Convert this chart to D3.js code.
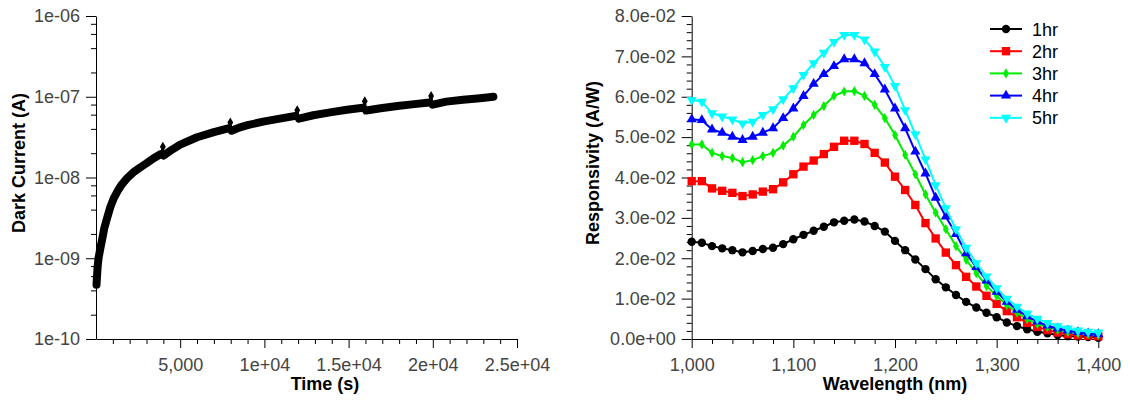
<!DOCTYPE html>
<html>
<head>
<meta charset="utf-8">
<script src="https://cdn.jsdelivr.net/npm/d3@7"></script>
<style>
    body { margin: 0; background: #fff; }
    text { font-family: "Liberation Sans", Arial, sans-serif; }
    .tick text { fill: #444; font-size: 18px; }
    .title { font-weight: bold; font-size: 18px; fill: #000; }
    .legend { font-size: 18px; fill: #000; }
</style>
</head>
<body>
<svg id="chart" width="1130" height="403"></svg>
<script>
// ---- left panel: dark current vs time ----
var timeTicks = [5000, 10000, 15000, 20000, 25000];
var timeTickLabels = ["5,000", "1e+04", "1.5e+04", "2e+04", "2.5e+04"];
var currentTicks = [1e-10, 1e-9, 1e-8, 1e-7, 1e-6];

// continuous runs of the measurement [time s, current A]
var darkRun1 = [[30, 4.7e-10], [60, 6.0e-10], [100, 8.0e-10], [150, 1.0e-9], [250, 1.3e-9], [350, 1.65e-9],
    [500, 2.4e-9], [650, 3.1e-9], [850, 4.3e-9], [1050, 5.5e-9], [1300, 6.9e-9], [1550, 8.3e-9],
    [1850, 9.8e-9], [2200, 1.15e-8], [2600, 1.32e-8], [3000, 1.5e-8], [3400, 1.72e-8], [3850, 1.95e-8]];
var darkRun2 = [[4020, 1.87e-8], [4500, 2.2e-8], [5000, 2.55e-8], [6000, 3.15e-8], [7000, 3.65e-8], [7850, 4.05e-8]];
var darkRun3 = [[8050, 3.8e-8], [8500, 4.15e-8], [9000, 4.45e-8], [10000, 4.95e-8], [11000, 5.4e-8], [11850, 5.8e-8]];
var darkRun4 = [[12050, 5.35e-8], [12900, 5.9e-8], [13900, 6.4e-8], [14900, 6.9e-8], [15850, 7.3e-8]];
var darkRun5 = [[16050, 6.75e-8], [16900, 7.2e-8], [17900, 7.67e-8], [18900, 8.1e-8], [19800, 8.5e-8]];
var darkRun6 = [[20000, 8.0e-8], [20800, 8.7e-8], [21800, 9.2e-8], [22800, 9.6e-8], [23600, 1.0e-7]];
// single outlier points at each restart
var darkSpikes = [[3970, 2.4e-8], [7976, 4.8e-8], [11950, 6.8e-8], [15960, 8.8e-8], [19900, 1.02e-7]];

// ---- right panel: responsivity vs wavelength ----
var wavelength = d3.range(1000, 1401, 10);
var wavelengthTicks = [1000, 1100, 1200, 1300, 1400];
var respTicks = [0, 0.01, 0.02, 0.03, 0.04, 0.05, 0.06, 0.07, 0.08];
var seriesNames = ["1hr", "2hr", "3hr", "4hr", "5hr"];
var resp1hr = [.0241, .02385, .0230, .02246, .0220, .02147, .0218, .0223, .0226, .0235, .0247,
    .0258, .0268, .0278, .0289, .0293, .0296, .0291, .0280, .0266, .0243,
    .0220, .0197, .0173, .0148, .0128, .0109, .0092, .0078, .0065, .0054,
    .0041, .0032, .0024, .0018, .0014, .0010, .0007, .0006, .0005, .0003];
var resp2hr = [.0391, .0391, .0373, .0367, .0362, .0354, .0358, .0365, .0371, .0388, .0408,
    .0427, .0442, .0458, .0476, .0491, .0491, .0483, .0461, .0437, .0402,
    .0369, .0332, .0287, .0249, .0214, .0183, .0154, .0130, .0107, .0087,
    .0069, .0054, .0040, .0030, .0022, .0016, .0012, .0009, .0008, .0007];
var resp3hr = [.0482, .0482, .0461, .0453, .0448, .0438, .0443, .0453, .0461, .0479, .0501,
    .0530, .0555, .0577, .0602, .0613, .0614, .0602, .0580, .0547, .0505,
    .0456, .0408, .0358, .0313, .0272, .0230, .0196, .0163, .0131, .0107,
    .0084, .0065, .0049, .0037, .0029, .0022, .0017, .0014, .0012, .0010];
var resp4hr = [.0544, .0542, .0519, .0511, .0501, .0493, .0501, .0511, .0522, .0547, .0571,
    .0602, .0632, .0656, .0676, .0693, .0693, .0683, .0656, .0618, .0571,
    .0522, .0464, .0410, .0350, .0303, .0260, .0212, .0178, .0145, .0117,
    .0092, .0072, .0056, .0043, .0033, .0026, .0021, .0017, .0014, .0012];
var resp5hr = [.0592, .0588, .0559, .0551, .0544, .0534, .0538, .0555, .0569, .0594, .0621,
    .0654, .0683, .0709, .0736, .0753, .0753, .0742, .0712, .0674, .0627,
    .0567, .0507, .0445, .0381, .0324, .0272, .0226, .0188, .0155, .0126,
    .0100, .0080, .0063, .0050, .0040, .0032, .0026, .0021, .0018, .0016];

var svg = d3.select("#chart");

// exponent with two digits, like 8.0e-02
function expLabel(v, digits) {
    var parts = v.toExponential(digits).split("e");
    var e = parts[1];
    return parts[0] + "e" + e[0] + e.slice(1).padStart(2, "0");
}

// ================= left panel =================
var xT = d3.scaleLinear().domain([0, 25000]).range([96, 517]);
var yI = d3.scaleLog().domain([1e-10, 1e-6]).range([339, 16]);

var timeMinor = d3.range(1000, 25000, 1000).filter(d => d % 5000 !== 0);
var currentMinor = [];
currentTicks.slice(0, -1).forEach(function (d) {
    [2, 4, 6, 8].forEach(m => currentMinor.push(d * m));
});

svg.append("g")
    .attr("transform", "translate(0,339)")
    .call(d3.axisBottom(xT).tickValues(timeMinor).tickSize(5).tickFormat(""))
    .call(g => g.select(".domain").remove());
svg.append("g")
    .attr("transform", "translate(0,339)")
    .call(d3.axisBottom(xT).tickValues(timeTicks).tickSize(9).tickSizeOuter(0).tickPadding(10)
        .tickFormat((d, i) => timeTickLabels[i]));

svg.append("g")
    .attr("transform", "translate(96,0)")
    .call(d3.axisLeft(yI).tickValues(currentMinor).tickSize(5).tickFormat(""))
    .call(g => g.select(".domain").remove());
svg.append("g")
    .attr("transform", "translate(96,0)")
    .call(d3.axisLeft(yI).tickValues(currentTicks).tickSize(10).tickSizeOuter(0).tickPadding(6)
        .tickFormat(d => expLabel(d, 0)));

var darkLine = d3.line()
    .x(d => xT(d[0]))
    .y(d => yI(d[1]));

var darkRuns = [darkRun1, darkRun2, darkRun3, darkRun4, darkRun5, darkRun6];

// thin connectors through the outliers
darkSpikes.forEach(function (s, i) {
    var before = darkRuns[i][darkRuns[i].length - 1];
    var after = darkRuns[i + 1][0];
    svg.append("path")
        .attr("d", darkLine([before, s, after]))
        .attr("fill", "none")
        .attr("stroke", "#000")
        .attr("stroke-width", 2);
});

// dense markers render as a thick band
svg.selectAll(".darkrun")
    .data(darkRuns)
    .enter()
    .append("path")
    .attr("class", "darkrun")
    .attr("d", d => darkLine(d))
    .attr("fill", "none")
    .attr("stroke", "#000")
    .attr("stroke-width", 8)
    .attr("stroke-linejoin", "round")
    .attr("stroke-linecap", "round");

svg.selectAll(".spike")
    .data(darkSpikes)
    .enter()
    .append("path")
    .attr("class", "spike")
    .attr("transform", d => "translate(" + xT(d[0]) + "," + yI(d[1]) + ")")
    .attr("d", d3.symbol().type(d3.symbolDiamond).size(30))
    .attr("fill", "#000");

svg.append("text")
    .attr("class", "title")
    .attr("x", 325)
    .attr("y", 390)
    .attr("text-anchor", "middle")
    .text("Time (s)");

svg.append("text")
    .attr("class", "title")
    .attr("transform", "translate(25,163) rotate(-90)")
    .attr("text-anchor", "middle")
    .text("Dark Current (A)");

// ================= right panel =================
var xW = d3.scaleLinear().domain([1000, 1400]).range([691.7, 1098.3]);
var yR = d3.scaleLinear().domain([0, 0.08]).range([339, 16]);

var wavelengthMinor = d3.range(1000, 1400, 20).filter(d => d % 100 !== 0);
var respMinor = d3.range(0, 40).map(i => i * 0.002).filter((d, i) => i % 5 !== 0);

svg.append("g")
    .attr("transform", "translate(0,339)")
    .call(d3.axisBottom(xW).tickValues(wavelengthMinor).tickSize(5).tickFormat(""))
    .call(g => g.select(".domain").remove());
svg.append("g")
    .attr("transform", "translate(0,339)")
    .call(d3.axisBottom(xW).tickValues(wavelengthTicks).tickSize(9).tickSizeOuter(0).tickPadding(10)
        .tickFormat(d3.format(",")));

svg.append("g")
    .attr("transform", "translate(691.7,0)")
    .call(d3.axisLeft(yR).tickValues(respMinor).tickSize(5).tickFormat(""))
    .call(g => g.select(".domain").remove());
svg.append("g")
    .attr("transform", "translate(691.7,0)")
    .call(d3.axisLeft(yR).tickValues(respTicks).tickSize(10).tickSizeOuter(0).tickPadding(6)
        .tickFormat(d => expLabel(d, 1)));

var seriesValues = [resp1hr, resp2hr, resp3hr, resp4hr, resp5hr];
var seriesColor = d3.scaleOrdinal()
    .domain(seriesNames)
    .range(["#000000", "#ff0000", "#00ee00", "#0000ff", "#00ffff"]);
var seriesSymbol = [
    d3.symbol().type(d3.symbolCircle).size(55),
    d3.symbol().type(d3.symbolSquare).size(70),
    d3.symbol().type(d3.symbolDiamond).size(30),
    d3.symbol().type(d3.symbolTriangle).size(45),
    d3.symbol().type(d3.symbolTriangle).size(45)
];
var seriesRotate = [0, 0, 0, 0, 180];

var respLine = d3.line()
    .x((d, i) => xW(wavelength[i]))
    .y(d => yR(d));

seriesNames.forEach(function (name, k) {
    var g = svg.append("g");
    g.append("path")
        .attr("d", respLine(seriesValues[k]))
        .attr("fill", "none")
        .attr("stroke", seriesColor(name))
        .attr("stroke-width", 2);
    g.selectAll("path.mark")
        .data(seriesValues[k])
        .enter()
        .append("path")
        .attr("class", "mark")
        .attr("transform", (d, i) => "translate(" + xW(wavelength[i]) + "," + yR(d) + ") rotate(" + seriesRotate[k] + ")")
        .attr("d", seriesSymbol[k])
        .attr("fill", seriesColor(name));
});

// legend
var legend = svg.selectAll(".legrow")
    .data(seriesNames)
    .enter()
    .append("g")
    .attr("class", "legrow")
    .attr("transform", (d, i) => "translate(990," + (29 + i * 22.2) + ")");
legend.append("line")
    .attr("x1", 0).attr("x2", 32)
    .attr("stroke", d => seriesColor(d))
    .attr("stroke-width", 2);
legend.append("path")
    .attr("transform", (d, i) => "translate(16,0) rotate(" + seriesRotate[i] + ")")
    .attr("d", (d, i) => seriesSymbol[i]())
    .attr("fill", d => seriesColor(d));
legend.append("text")
    .attr("class", "legend")
    .attr("x", 42)
    .attr("y", 6.5)
    .text(d => d);

svg.append("text")
    .attr("class", "title")
    .attr("x", 895)
    .attr("y", 390)
    .attr("text-anchor", "middle")
    .text("Wavelength (nm)");

svg.append("text")
    .attr("class", "title")
    .attr("transform", "translate(599,163) rotate(-90)")
    .attr("text-anchor", "middle")
    .text("Responsivity (A/W)");
</script>
</body>
</html>
